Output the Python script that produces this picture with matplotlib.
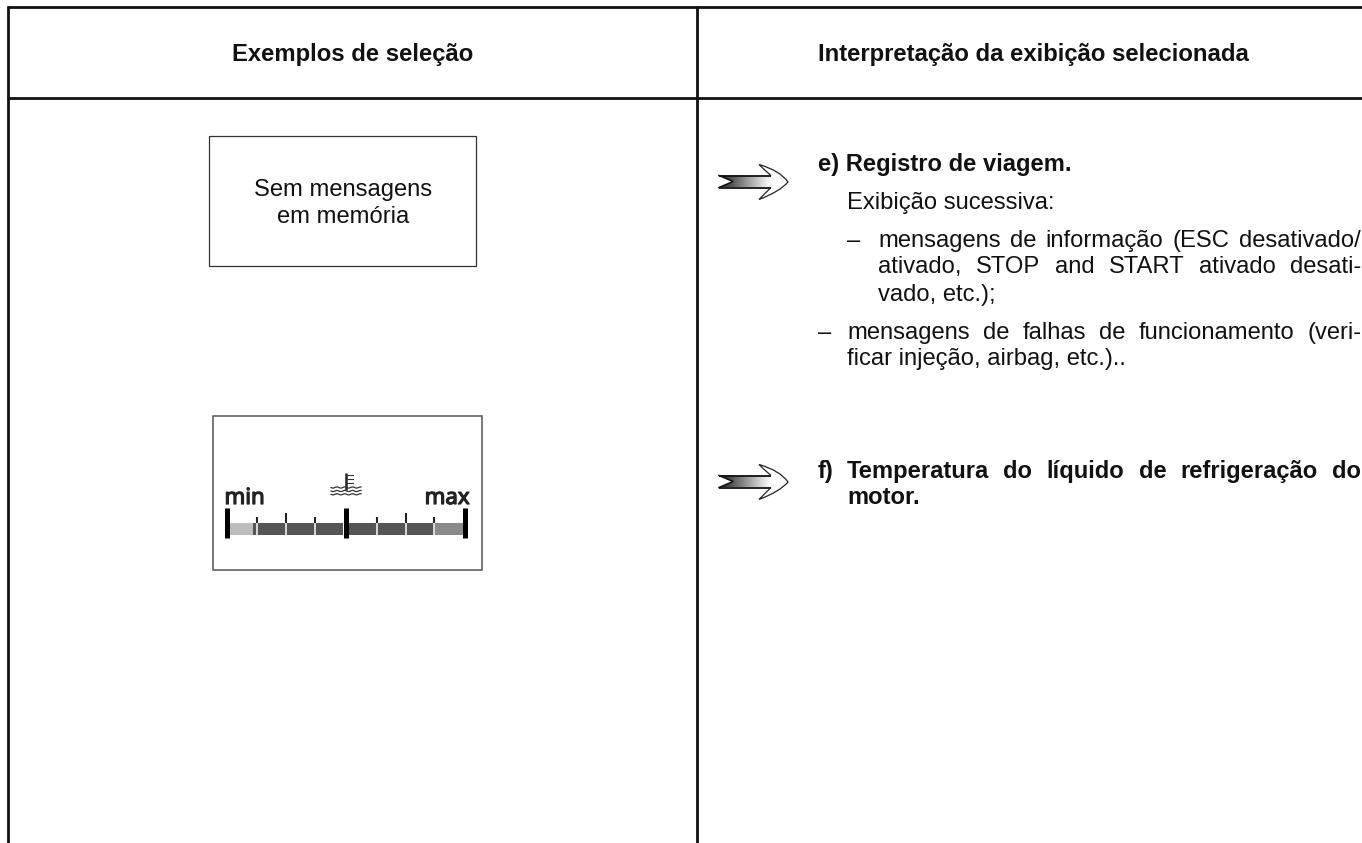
import numpy as np
import matplotlib
matplotlib.use("Agg")
import matplotlib.pyplot as plt
import matplotlib.patheffects as pe
from matplotlib.patches import Rectangle, PathPatch
from matplotlib.path import Path

W, H = 1362, 843
plt.rcParams['font.family'] = ['Liberation Sans', 'DejaVu Sans']

headers = ["Exemplos de seleção", "Interpretação da exibição selecionada"]
box_lines = ["Sem mensagens", "em memória"]
heading_e = "e) Registro de viagem."
sub_e = "Exibição sucessiva:"
bullet_1 = ["mensagens de informação (ESC desativado/", "ativado, STOP and START ativado desati-", "vado, etc.);"]
bullet_2 = ["mensagens de falhas de funcionamento (veri-", "ficar injeção, airbag, etc.).."]
heading_f = ["f)", "Temperatura do líquido de refrigeração do", "motor."]
gauge_labels = ["min", "max"]
gauge_major = [226.7, 345.7, 465]
gauge_minor_short = [257, 315, 376.7, 434.3]
gauge_minor_tall = [286, 405.7]
gauge_segments = [(230, 252.7, '#bdbdbd'), (252.7, 343, '#555555'), (348, 434.3, '#555555'), (434.3, 463, '#8a8a8a')]

fig = plt.figure(figsize=(W / 100, H / 100), dpi=100)
ax = fig.add_axes([0, 0, 1, 1])
ax.set_xlim(0, W)
ax.set_ylim(H, 0)
ax.axis('off')

# table frame
k = '#111111'
ax.plot([7.5, 7.5], [5.5, H], color=k, lw=2.0, solid_capstyle='butt')
ax.plot([696.5, 696.5], [5.5, H], color=k, lw=2.0, solid_capstyle='butt')
ax.plot([6.5, W], [6.7, 6.7], color=k, lw=2.0, solid_capstyle='butt')
ax.plot([6.5, W], [97.8, 97.8], color=k, lw=2.0, solid_capstyle='butt')

FS = 17.1
fig.canvas.draw()
rend = fig.canvas.get_renderer()

def T(x, y, s, **kw):
    kw.setdefault('fontsize', FS)
    kw.setdefault('va', 'baseline')
    kw.setdefault('color', '#111111')
    return ax.text(x, y, s, **kw)

def justified(x0, x1, y, s, **kw):
    words = s.split(' ')
    arts = [T(x0, y, w, **kw) for w in words]
    ws = [a.get_window_extent(rend).width for a in arts]
    gap = (x1 - x0 - sum(ws)) / max(len(words) - 1, 1)
    x = x0
    for a, w in zip(arts, ws):
        a.set_x(x)
        x += w + gap

# headers
T(352.5, 61.5, headers[0], ha='center', fontweight='bold', fontsize=17.2)
T(1033.5, 61, headers[1], ha='center', fontweight='bold', fontsize=17.2)

# message box
ax.add_patch(Rectangle((209.3, 135.7), 267, 130, fc='white', ec='#333333', lw=0.9))
T(342.7, 196, box_lines[0], ha='center')
T(342.7, 223, box_lines[1], ha='center')

# gauge panel
ax.add_patch(Rectangle((212.7, 416), 269, 153.5, fc='white', ec='#555555', lw=1.1))
for x0, x1, c in gauge_segments:
    ax.add_patch(Rectangle((x0, 523), x1 - x0, 12, fc=c, ec='none'))
for x in gauge_major:
    ax.plot([x, x], [508, 538], color='black', lw=3.6, solid_capstyle='butt')
for top, xs in ((516.7, gauge_minor_short), (512.7, gauge_minor_tall)):
    for x in xs:
        ax.plot([x, x], [top, 523], color='#222222', lw=1.5, solid_capstyle='butt')
        ax.plot([x, x], [523, 535], color='#e4e4e4', lw=1.3, solid_capstyle='butt')
faux_bold = [pe.withStroke(linewidth=0.9, foreground='#222222')]
T(224.5, 504, gauge_labels[0], fontsize=16, fontfamily='Noto Sans', color='#222222', path_effects=faux_bold)
T(469.5, 504, gauge_labels[1], fontsize=16, fontfamily='Noto Sans', ha='right', color='#222222', path_effects=faux_bold)
# thermometer symbol
ax.plot([345.7, 345.7], [473, 490], color='#222222', lw=1.8, solid_capstyle='butt')
for yy in [475, 479, 483]:
    ax.plot([345.7, 353], [yy, yy], color='#333333', lw=0.8)
for yy in [487.5, 491, 494.3]:
    xs = np.arange(331, 361.5, 1.0)
    ax.plot(xs, yy + 0.6 * np.sin((xs - 331) * 0.8), color='#333333', lw=0.9)

# arrows
def arrow(y):
    top, bot = y - 6, y + 6
    grad = np.linspace(0.12, 1, 64).reshape(1, -1)
    im = ax.imshow(grad, extent=(719, 771, bot, top), cmap='gray', vmin=0, vmax=1, aspect='auto', zorder=2)
    body = Path([(719, top), (771, top), (771, bot), (719, bot), (733, y), (719, top)],
                [Path.MOVETO, Path.LINETO, Path.LINETO, Path.LINETO, Path.LINETO, Path.CLOSEPOLY])
    clip = PathPatch(body, fc='none', ec='none', transform=ax.transData)
    ax.add_patch(clip)
    im.set_clip_path(clip)
    ax.plot([719, 771], [top, top], color='#111111', lw=1.3, zorder=3, solid_capstyle='butt')
    ax.plot([719, 771], [bot, bot], color='#111111', lw=1.3, zorder=3, solid_capstyle='butt')
    ax.plot([719, 733, 719], [top, y, bot], color='#111111', lw=1.1, zorder=3)
    head = Path([(771, top), (765, y - 11), (759, y - 17),
                 (780, y - 11), (788, y + 0.5),
                 (780, y + 10), (759, y + 18),
                 (765, y + 12), (771, bot)],
                [Path.MOVETO, Path.CURVE3, Path.CURVE3, Path.CURVE3, Path.CURVE3,
                 Path.CURVE3, Path.CURVE3, Path.CURVE3, Path.CURVE3])
    ax.add_patch(PathPatch(head, fc='none', ec='#222222', lw=0.9, zorder=3))

arrow(181.5)
arrow(481.5)
ax.set_xlim(0, W)
ax.set_ylim(H, 0)

# right column text
T(818, 171, heading_e, fontweight='bold')
T(847, 208.5, sub_e)
T(847, 246.7, "–")
justified(878, 1361, 246.7, bullet_1[0])
justified(878, 1361, 273, bullet_1[1])
T(878, 301, bullet_1[2])
T(818, 339, "–")
justified(847, 1361, 339, bullet_2[0])
T(847, 365.5, bullet_2[1])
T(818, 478.3, heading_f[0], fontweight='bold')
justified(847, 1361, 478.3, heading_f[1], fontweight='bold')
T(847, 504.3, heading_f[2], fontweight='bold')

fig.savefig('out.png', dpi=100)
